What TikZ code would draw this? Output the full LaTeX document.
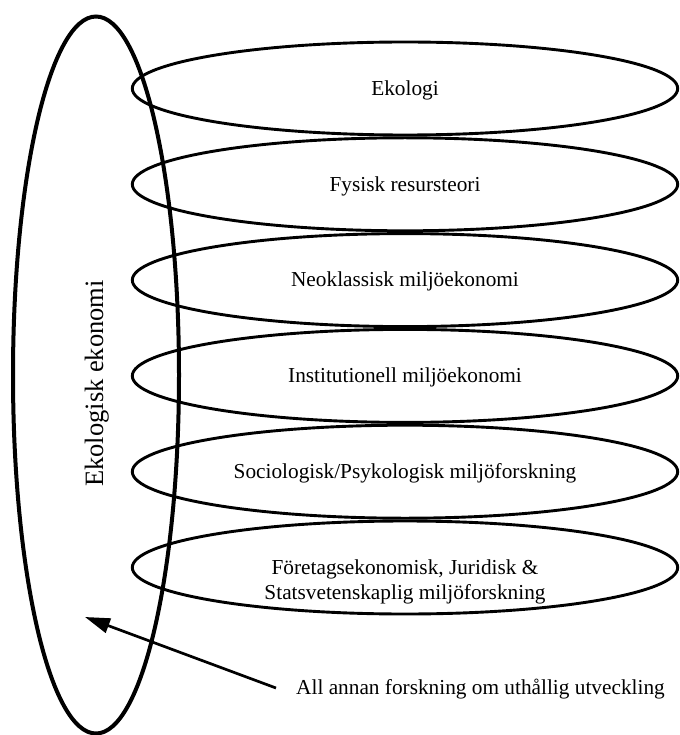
\documentclass[tikz,border=0pt]{standalone}
\usepackage{fontspec}
\setmainfont{Liberation Serif}
\usetikzlibrary{shapes.geometric,arrows.meta}
\begin{document}
\begin{tikzpicture}[x=1pt,y=-1pt,
  layer/.style={ellipse, draw, line width=2.9pt, minimum width=545.4pt, minimum height=93pt, inner sep=0pt},
  bigell/.style={ellipse, draw, line width=4pt, minimum width=166pt, minimum height=717pt, inner sep=0pt},
  lbl/.style={font=\fontsize{21.3}{25}\selectfont, inner sep=0pt, anchor=base, align=center},
  biglbl/.style={rotate=90, font=\fontsize{26.5}{30}\selectfont, inner sep=0pt, anchor=base},
  arr/.style={line width=2.7pt, -{Triangle[length=25pt,width=15pt]}}
  ]
\useasboundingbox (0,0) rectangle (679,735);
\node[bigell] (eco) at (96,375) {};
\node[biglbl] (ecolbl) at (103,383.5) {Ekologisk ekonomi};

\node[layer] (e1) at (405,88.5) {};
\node[layer] (e2) at (405,184.3) {};
\node[layer] (e3) at (405,280.1) {};
\node[layer] (e4) at (405,375.9) {};
\node[layer] (e5) at (405,471.7) {};
\node[layer] (e6) at (405,567.5) {};

\node[lbl] (t1) at (405,95.3) {Ekologi};
\node[lbl] (t2) at (405,191.1) {Fysisk resursteori};
\node[lbl] (t3) at (405,286.9) {Neoklassisk miljöekonomi};
\node[lbl] (t4) at (405,382.7) {Institutionell miljöekonomi};
\node[lbl] (t5) at (405,478.5) {Sociologisk/Psykologisk miljöforskning};
\node[lbl] (t6) at (405,599) {Företagsekonomisk, Juridisk \&\\Statsvetenskaplig miljöforskning};

\node[lbl, anchor=base west] (t7) at (296,694.5) {All annan forskning om uthållig utveckling};
\coordinate (atail) at (276,688);
\coordinate (atip) at (85,617);
\draw[arr] (atail) -- (atip);
\end{tikzpicture}
\end{document}
